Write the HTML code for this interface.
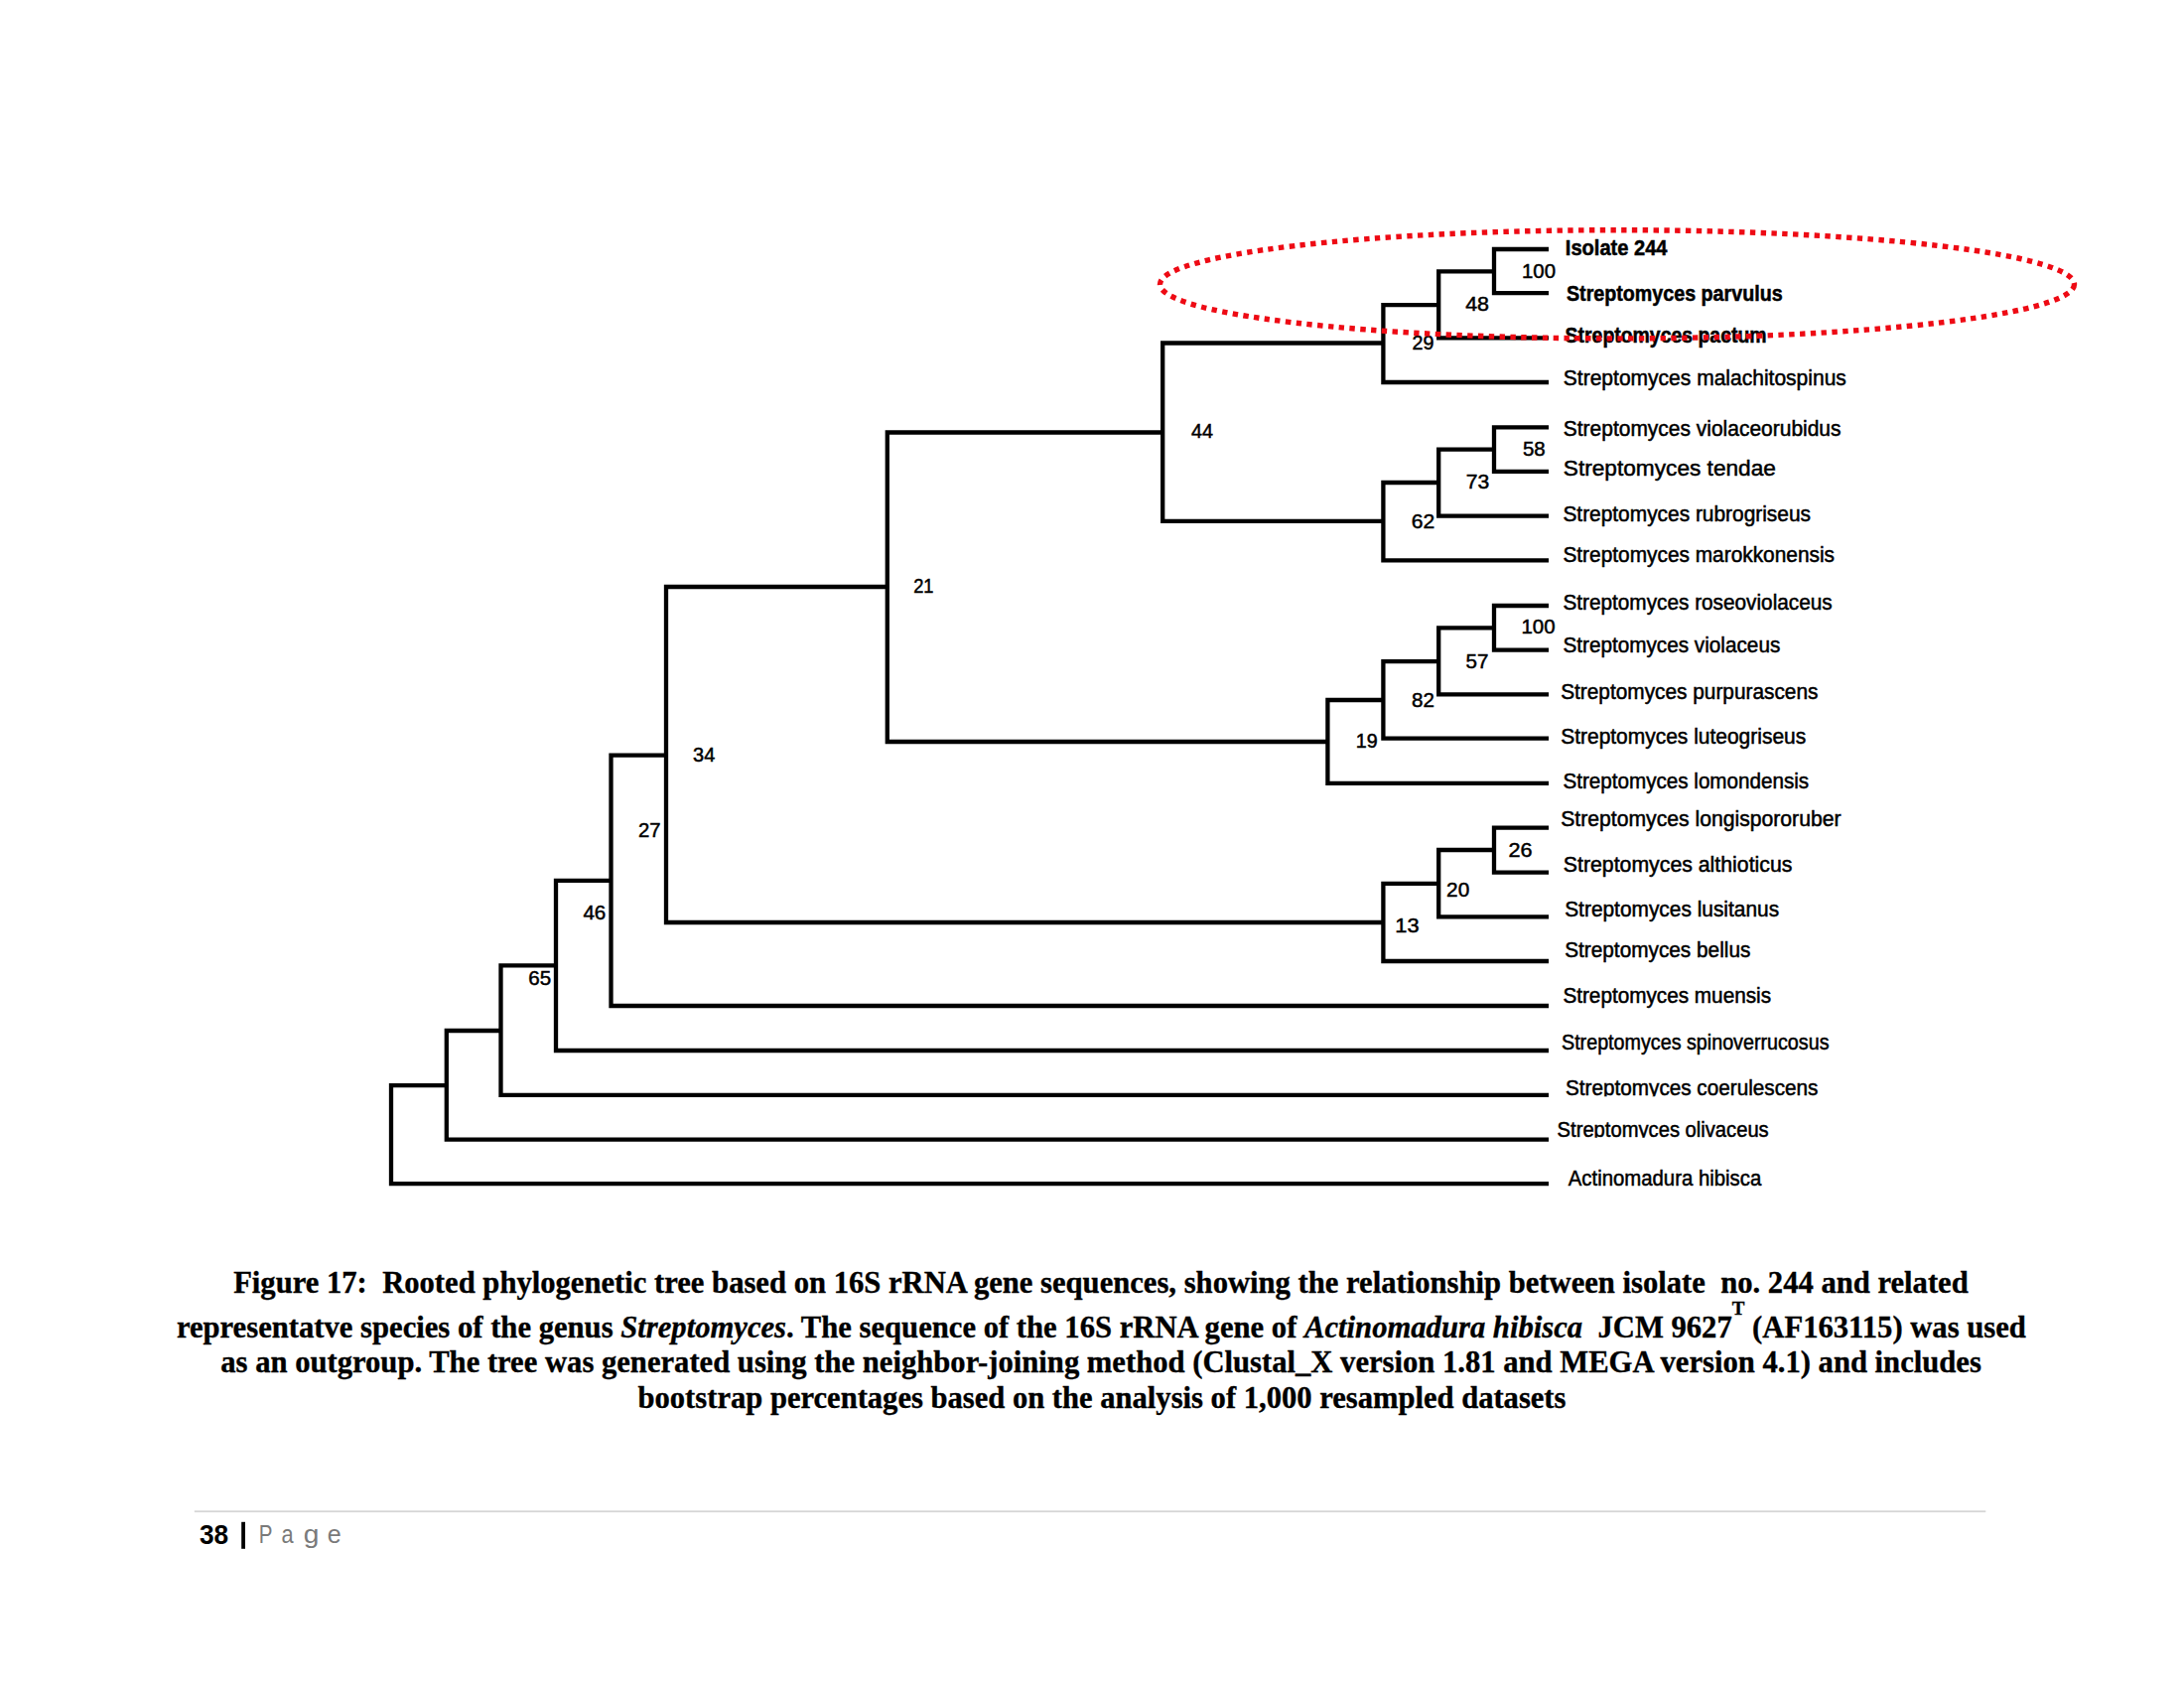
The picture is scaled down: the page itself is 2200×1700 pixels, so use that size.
<!DOCTYPE html><html><head><meta charset="utf-8"><style>html,body{margin:0;padding:0;background:#fff;width:2200px;height:1700px;overflow:hidden;position:relative}svg{display:block;position:absolute;left:0;top:0}</style></head><body>
<svg width="2200" height="1700" viewBox="0 0 2200 1700">
<g fill="none" stroke="#000" stroke-width="4.3" stroke-linejoin="miter" stroke-linecap="butt">
<path d="M449.8 1093.2H394.0V1192.2H1560.0"/>
<path d="M504.5 1038.0H449.8V1147.6H1560.0"/>
<path d="M560.0 972.4H504.5V1102.8H1560.0"/>
<path d="M615.5 886.8H560.0V1058.0H1560.0"/>
<path d="M671.0 760.6H615.5V1013.0H1560.0"/>
<path d="M893.8 591.0H671.0V929.0H1393.4"/>
<path d="M1171.2 435.5H893.8V747.0H1337.4"/>
<path d="M1393.4 345.5H1171.2V524.8H1393.4"/>
<path d="M1449.2 307.2H1393.4V385.0H1560.0"/>
<path d="M1505.0 273.4H1449.2V340.4H1560.0"/>
<path d="M1560.0 251.0H1505.0V295.2H1560.0"/>
<path d="M1449.2 486.0H1393.4V564.3H1560.0"/>
<path d="M1505.0 452.6H1449.2V519.6H1560.0"/>
<path d="M1560.0 430.4H1505.0V474.9H1560.0"/>
<path d="M1393.4 705.0H1337.4V788.8H1560.0"/>
<path d="M1449.2 666.2H1393.4V743.6H1560.0"/>
<path d="M1505.0 632.3H1449.2V699.3H1560.0"/>
<path d="M1560.0 610.0H1505.0V654.7H1560.0"/>
<path d="M1449.2 889.8H1393.4V968.0H1560.0"/>
<path d="M1505.0 856.0H1449.2V923.4H1560.0"/>
<path d="M1560.0 833.7H1505.0V878.6H1560.0"/>
</g>
<g font-family="Liberation Sans, sans-serif" fill="#000" stroke="#000" stroke-width="0.5">
<text x="1576.80" y="256.90" font-size="21.2" font-weight="bold" textLength="102.71" lengthAdjust="spacingAndGlyphs">Isolate 244</text>
<text x="1578.00" y="302.50" font-size="21.2" font-weight="bold" textLength="217.61" lengthAdjust="spacingAndGlyphs">Streptomyces parvulus</text>
<text x="1576.60" y="345.00" font-size="21.2" font-weight="bold" textLength="203.01" lengthAdjust="spacingAndGlyphs">Streptomyces pactum</text>
<text x="1574.80" y="387.50" font-size="21.2" textLength="285.09" lengthAdjust="spacingAndGlyphs">Streptomyces malachitospinus</text>
<text x="1574.80" y="438.80" font-size="21.2" textLength="279.71" lengthAdjust="spacingAndGlyphs">Streptomyces violaceorubidus</text>
<text x="1574.80" y="479.20" font-size="22.6" textLength="214.13" lengthAdjust="spacingAndGlyphs">Streptomyces tendae</text>
<text x="1574.40" y="525.40" font-size="21.2" textLength="249.62" lengthAdjust="spacingAndGlyphs">Streptomyces rubrogriseus</text>
<text x="1574.40" y="566.30" font-size="21.2" textLength="273.61" lengthAdjust="spacingAndGlyphs">Streptomyces marokkonensis</text>
<text x="1574.40" y="613.80" font-size="21.2" textLength="271.32" lengthAdjust="spacingAndGlyphs">Streptomyces roseoviolaceus</text>
<text x="1574.40" y="657.10" font-size="21.2" textLength="218.91" lengthAdjust="spacingAndGlyphs">Streptomyces violaceus</text>
<text x="1572.20" y="704.40" font-size="21.2" textLength="259.23" lengthAdjust="spacingAndGlyphs">Streptomyces purpurascens</text>
<text x="1572.20" y="749.30" font-size="21.2" textLength="247.01" lengthAdjust="spacingAndGlyphs">Streptomyces luteogriseus</text>
<text x="1574.40" y="794.10" font-size="21.2" textLength="247.80" lengthAdjust="spacingAndGlyphs">Streptomyces lomondensis</text>
<text x="1572.20" y="832.00" font-size="21.2" textLength="282.33" lengthAdjust="spacingAndGlyphs">Streptomyces longispororuber</text>
<text x="1574.80" y="878.00" font-size="21.2" textLength="230.62" lengthAdjust="spacingAndGlyphs">Streptomyces althioticus</text>
<text x="1576.20" y="922.60" font-size="21.2" textLength="215.92" lengthAdjust="spacingAndGlyphs">Streptomyces lusitanus</text>
<text x="1576.20" y="963.80" font-size="21.2" textLength="187.15" lengthAdjust="spacingAndGlyphs">Streptomyces bellus</text>
<text x="1574.40" y="1010.40" font-size="21.2" textLength="209.62" lengthAdjust="spacingAndGlyphs">Streptomyces muensis</text>
<text x="1573.00" y="1056.90" font-size="21.2" textLength="269.49" lengthAdjust="spacingAndGlyphs">Streptomyces spinoverrucosus</text>
<clipPath id="c19"><rect x="1500" y="1064.2" width="500" height="40"/></clipPath>
<text clip-path="url(#c19)" x="1577.00" y="1103.40" font-size="21.2" textLength="254.42" lengthAdjust="spacingAndGlyphs">Streptomyces coerulescens</text>
<clipPath id="c20"><rect x="1500" y="1105.8" width="500" height="40"/></clipPath>
<text clip-path="url(#c20)" x="1568.60" y="1145.00" font-size="21.2" textLength="213.13" lengthAdjust="spacingAndGlyphs">Streptomyces olivaceus</text>
<text x="1579.80" y="1194.00" font-size="21.2" textLength="194.41" lengthAdjust="spacingAndGlyphs">Actinomadura hibisca</text>
<text x="1533.00" y="279.90" font-size="21.0" textLength="33.97" lengthAdjust="spacingAndGlyphs">100</text>
<text x="1476.20" y="313.10" font-size="21.0" textLength="23.83" lengthAdjust="spacingAndGlyphs">48</text>
<text x="1422.60" y="352.30" font-size="21.0" textLength="21.96" lengthAdjust="spacingAndGlyphs">29</text>
<text x="1200.00" y="441.40" font-size="21.0" textLength="22.00" lengthAdjust="spacingAndGlyphs">44</text>
<text x="1533.90" y="458.60" font-size="21.0" textLength="22.69" lengthAdjust="spacingAndGlyphs">58</text>
<text x="1476.80" y="491.90" font-size="21.0" textLength="23.47" lengthAdjust="spacingAndGlyphs">73</text>
<text x="1421.80" y="531.50" font-size="21.0" textLength="23.47" lengthAdjust="spacingAndGlyphs">62</text>
<text x="920.20" y="597.00" font-size="21.0" textLength="20.35" lengthAdjust="spacingAndGlyphs">21</text>
<text x="1532.50" y="638.30" font-size="21.0" textLength="34.10" lengthAdjust="spacingAndGlyphs">100</text>
<text x="1476.60" y="672.50" font-size="21.0" textLength="22.90" lengthAdjust="spacingAndGlyphs">57</text>
<text x="1422.00" y="711.70" font-size="21.0" textLength="22.90" lengthAdjust="spacingAndGlyphs">82</text>
<text x="1365.70" y="753.00" font-size="21.0" textLength="21.91" lengthAdjust="spacingAndGlyphs">19</text>
<text x="698.10" y="766.50" font-size="21.0" textLength="22.16" lengthAdjust="spacingAndGlyphs">34</text>
<text x="642.90" y="843.40" font-size="21.0" textLength="22.59" lengthAdjust="spacingAndGlyphs">27</text>
<text x="1519.50" y="862.80" font-size="21.0" textLength="24.05" lengthAdjust="spacingAndGlyphs">26</text>
<text x="1457.10" y="902.90" font-size="21.0" textLength="23.15" lengthAdjust="spacingAndGlyphs">20</text>
<text x="587.40" y="926.10" font-size="21.0" textLength="22.96" lengthAdjust="spacingAndGlyphs">46</text>
<text x="1405.30" y="939.20" font-size="21.0" textLength="24.20" lengthAdjust="spacingAndGlyphs">13</text>
<text x="532.30" y="991.70" font-size="21.0" textLength="22.90" lengthAdjust="spacingAndGlyphs">65</text>
</g>
<ellipse cx="1629" cy="286.3" rx="460.5" ry="54.6" fill="none" stroke="#ee0a14" stroke-width="5.4" stroke-dasharray="5.4 5.4"/>
</svg>
<svg style="position:absolute;left:0;top:0" width="2200" height="1700" viewBox="0 0 2200 1700"><g font-family="Liberation Serif, serif" font-weight="bold" fill="#000" stroke="#000" stroke-width="0.35" text-anchor="middle">
<text x="1108.95" y="1301.80" font-size="30.641">Figure 17:&#160; Rooted phylogenetic tree based on 16S rRNA gene sequences, showing the relationship between isolate&#160; no. 244 and related</text>
<text x="1109.40" y="1346.70" font-size="30.659">representatve species of the genus <tspan font-style="italic">Streptomyces</tspan>. The sequence of the 16S rRNA gene of <tspan font-style="italic">Actinomadura hibisca</tspan>&#160; JCM 9627<tspan font-size="19" dy="-23">T</tspan><tspan dy="23"> (AF163115) was used</tspan></text>
<text x="1109.05" y="1381.60" font-size="30.645">as an outgroup. The tree was generated using the neighbor-joining method (Clustal_X version 1.81 and MEGA version 4.1) and includes</text>
<text x="1110.00" y="1418.00" font-size="30.580">bootstrap percentages based on the analysis of 1,000 resampled datasets</text>
</g></svg>
<svg style="position:absolute;left:0;top:0" width="2200" height="1700" viewBox="0 0 2200 1700">
<rect x="195.8" y="1521.3" width="1804.5" height="1.8" fill="#d6d6d6"/>
<text x="201.00" y="1554.70" font-family="Liberation Sans, sans-serif" font-weight="bold" font-size="28.2" textLength="29.21" lengthAdjust="spacingAndGlyphs" fill="#000">38</text>
<rect x="243.2" y="1532.8" width="3.8" height="27" fill="#000"/>
<text x="260.80" y="1554.30" font-family="Liberation Sans, sans-serif" font-size="26.5" textLength="13.72" lengthAdjust="spacingAndGlyphs" fill="#7a7a7a">P</text>
<text x="283.60" y="1554.30" font-family="Liberation Sans, sans-serif" font-size="26.5" textLength="12.10" lengthAdjust="spacingAndGlyphs" fill="#7a7a7a">a</text>
<text x="305.80" y="1554.30" font-family="Liberation Sans, sans-serif" font-size="26.5" textLength="15.64" lengthAdjust="spacingAndGlyphs" fill="#7a7a7a">g</text>
<text x="329.80" y="1554.30" font-family="Liberation Sans, sans-serif" font-size="26.5" textLength="13.99" lengthAdjust="spacingAndGlyphs" fill="#7a7a7a">e</text>
</svg>
</body></html>
